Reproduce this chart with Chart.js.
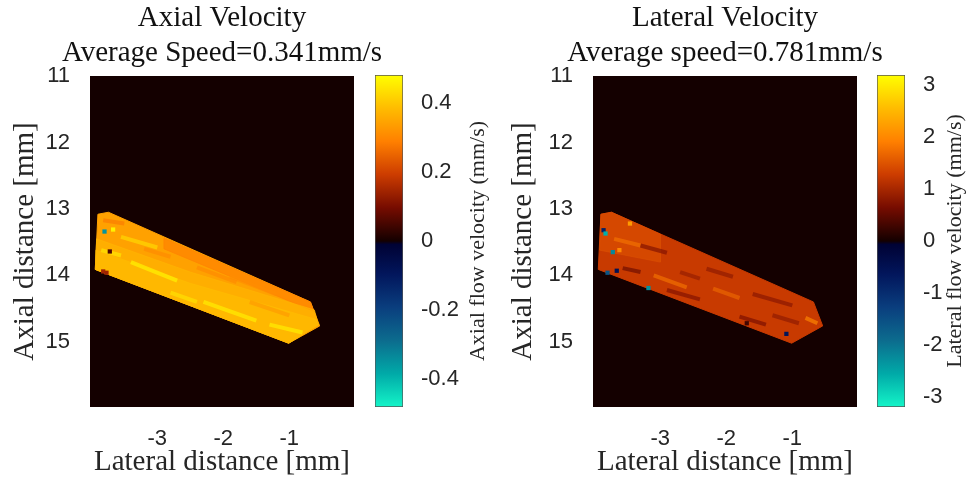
<!DOCTYPE html>
<html>
<head>
<meta charset="utf-8">
<script src="https://cdn.jsdelivr.net/npm/chart.js@4.4.1/dist/chart.umd.min.js"></script>
<style>
  html, body { margin: 0; padding: 0; background: #fff; }
  #fig { position: relative; width: 969px; height: 482px; overflow: hidden; }
  canvas { position: absolute; top: 0; }
</style>
</head>
<body>
<div id="fig">
  <canvas id="axialMap" width="444" height="482" style="left:0px"></canvas>
  <canvas id="axialBar" width="130" height="482" style="left:365px"></canvas>
  <canvas id="latMap" width="482" height="482" style="left:484px"></canvas>
  <canvas id="latBar" width="104" height="482" style="left:865px"></canvas>
</div>
<script>
  // ---- data ----
  const xTicks = [-3, -2, -1];
  const yTicks = [11, 12, 13, 14, 15];
  const axialBarTicks = [-0.4, -0.2, 0, 0.2, 0.4];
  const lateralBarTicks = [-3, -2, -1, 0, 1, 2, 3];

  // vessel mask outline (mm), same region in both maps
  const maskX = [-3.90, -3.74, -0.68, -0.54, -1.01, -3.94];
  const maskY = [13.08, 13.05, 14.40, 14.76, 15.02, 13.91];

  const axialMax = 0.48;
  const lateralMax = 3.2;
  const axialBase = 0.34;
  const lateralBase = 1.25;

  // zones inside the vessel: [value, [x...], [y...]]
  const axialZones = [
    [0.37, [-3.92, -2.50, -0.62, -0.56, -1.01, -3.94], [13.45, 13.95, 14.52, 14.74, 15.02, 13.91]],
    [0.41, [-3.93, -2.50, -0.60, -0.56, -1.01, -3.94], [13.62, 14.12, 14.66, 14.74, 15.02, 13.91]],
    [0.29, [-2.90, -0.68, -0.63, -2.90], [13.44, 14.40, 14.54, 13.60]],
  ];
  // thin streaks: [value, x0, y0, x1, y1]
  const axialStreaks = [
    [0.47, -3.40, 13.80, -2.70, 14.08],
    [0.46, -2.30, 14.40, -1.50, 14.68],
    [0.46, -1.30, 14.74, -0.80, 14.86],
    [0.45, -3.85, 13.62, -3.55, 13.70],
    [0.43, -3.55, 13.42, -3.00, 13.58],
    [0.28, -3.82, 13.17, -3.50, 13.22],
    [0.30, -2.40, 13.88, -1.80, 14.10],
    [0.30, -3.20, 13.60, -2.80, 13.72],
    [0.33, -1.60, 14.40, -1.00, 14.60],
    [0.31, -1.90, 14.02, -1.20, 14.28],
    [0.44, -2.80, 14.26, -2.40, 14.40],
  ];
  // single cells: [value, x, y]
  const axialSpots = [
    [-0.35, -3.80, 13.34],
    [0.46, -3.67, 13.31],
    [0.06, -3.72, 13.64],
    [0.15, -3.82, 13.94],
    [0.14, -3.77, 13.96],
  ];

  const lateralZones = [
    [1.45, [-3.90, -3.74, -3.00, -3.00, -3.92], [13.08, 13.05, 13.38, 13.80, 13.62]],
  ];
  const lateralStreaks = [
    [0.55, -3.57, 13.89, -3.30, 13.95],
    [0.70, -2.90, 14.22, -2.40, 14.36],
    [0.65, -1.80, 14.62, -1.40, 14.74],
    [0.80, -2.30, 13.90, -1.90, 14.02],
    [0.75, -1.60, 14.28, -1.00, 14.45],
    [0.70, -3.30, 13.55, -2.90, 13.66],
    [0.85, -2.70, 13.95, -2.40, 14.05],
    [0.80, -1.30, 14.60, -0.90, 14.72],
    [2.00, -0.80, 14.64, -0.62, 14.72],
    [1.80, -3.10, 14.00, -2.60, 14.18],
    [1.80, -3.70, 13.45, -3.30, 13.55],
    [1.70, -2.20, 14.20, -1.80, 14.34],
  ];
  const lateralSpots = [
    [-0.8, -3.86, 13.32],
    [-2.6, -3.83, 13.37],
    [2.2, -3.46, 13.22],
    [-2.2, -3.72, 13.65],
    [2.0, -3.62, 13.62],
    [-1.6, -3.80, 13.96],
    [-0.5, -3.66, 13.93],
    [-2.3, -3.18, 14.19],
    [-0.6, -1.09, 14.88],
    [0.3, -1.69, 14.72],
  ];

  // ---- colour map (fraction of max -> rgb) ----
  const cmapStops = [
    [-1.0, [20, 245, 200]],
    [-0.8, [0, 170, 168]],
    [-0.6, [12, 108, 142]],
    [-0.4, [10, 62, 126]],
    [-0.2, [2, 22, 92]],
    [-0.02, [0, 2, 52]],
    [0.0, [20, 0, 0]],
    [0.2, [118, 12, 0]],
    [0.4, [204, 60, 0]],
    [0.6, [255, 128, 0]],
    [0.8, [255, 188, 0]],
    [1.0, [255, 255, 0]],
  ];

  function cmap(v, vmax, a) {
    const t = Math.max(-1, Math.min(1, v / vmax));
    let c = cmapStops[cmapStops.length - 1][1];
    for (let i = 1; i < cmapStops.length; i++) {
      const [t1, c1] = cmapStops[i];
      if (t <= t1) {
        const [t0, c0] = cmapStops[i - 1];
        const f = (t - t0) / (t1 - t0);
        c = c0.map((x, k) => Math.round(x + (c1[k] - x) * f));
        break;
      }
    }
    return `rgba(${c[0]},${c[1]},${c[2]},${a ?? 1})`;
  }

  const SERIF = "'Liberation Serif', 'DejaVu Serif', serif";
  const SANS = "'Liberation Sans', 'DejaVu Sans', sans-serif";
  const INK = "#262626";

  const mapBg = {
    id: "mapBg",
    beforeDatasetsDraw(chart) {
      const { ctx, chartArea: a } = chart;
      ctx.save();
      ctx.fillStyle = cmap(0, 1);
      ctx.fillRect(a.left, a.top, a.width, a.height);
      ctx.restore();
    },
  };

  const barLabel = {
    id: "barLabel",
    afterDraw(chart, args, opts) {
      const { ctx, chartArea } = chart;
      ctx.save();
      ctx.translate(opts.x, (chartArea.top + chartArea.bottom) / 2);
      ctx.rotate(-Math.PI / 2);
      ctx.font = `22px ${SERIF}`;
      ctx.fillStyle = INK;
      ctx.textAlign = "center";
      ctx.textBaseline = "middle";
      ctx.fillText(opts.text, 0, 0);
      ctx.restore();
    },
  };

  function polyDataset(xs, ys, color, order) {
    const pts = xs.map((x, i) => ({ x, y: ys[i] }));
    pts.push(pts[0]);
    return {
      type: "line",
      data: pts,
      backgroundColor: color,
      borderColor: color,
      borderWidth: 1,
      pointRadius: 0,
      fill: "shape",
      tension: 0,
      order,
    };
  }

  function streakDataset(s, vmax) {
    return {
      type: "line",
      data: [{ x: s[1], y: s[2] }, { x: s[3], y: s[4] }],
      borderColor: cmap(s[0], vmax, 0.65),
      borderWidth: 4,
      borderCapStyle: "butt",
      pointRadius: 0,
      fill: false,
      tension: 0,
      order: 2,
    };
  }

  function makeMap(id, cfg) {
    const datasets = [
      {
        type: "scatter",
        data: cfg.spots.map((s) => ({ x: s[1], y: s[2] })),
        pointStyle: "rect",
        pointRadius: 3,
        pointBorderWidth: 0,
        pointBackgroundColor: cfg.spots.map((s) => cmap(s[0], cfg.vmax)),
        order: 1,
      },
      ...cfg.streaks.map((s) => streakDataset(s, cfg.vmax)),
      ...cfg.zones.map((z) => polyDataset(z[1], z[2], cmap(z[0], cfg.vmax, 0.7), 3)),
      polyDataset(maskX, maskY, cmap(cfg.base, cfg.vmax), 4),
    ];
    return new Chart(document.getElementById(id), {
      type: "scatter",
      data: { datasets },
      options: {
        responsive: false,
        animation: false,
        events: [],
        layout: { padding: 0 },
        scales: {
          x: {
            type: "linear",
            min: -4.02,
            max: -0.02,
            afterBuildTicks: (s) => { s.ticks = xTicks.map((v) => ({ value: v })); },
            afterFit: (s) => { s.height = 75; },
            grid: { display: false },
            border: { display: false },
            ticks: { padding: 11, color: INK, font: { family: SANS, size: 22 }, callback: (v) => String(v) },
            title: {
              display: true,
              text: "Lateral distance [mm]",
              color: INK,
              font: { family: SERIF, size: 29 },
              padding: { top: 0, bottom: 2 },
            },
          },
          y: {
            type: "linear",
            reverse: true,
            min: 11,
            max: 15.98,
            afterBuildTicks: (s) => { s.ticks = yTicks.map((v) => ({ value: v })); },
            afterFit: (s) => { s.width = cfg.yw; },
            grid: { display: false },
            border: { display: false },
            ticks: { padding: 12, color: INK, font: { family: SANS, size: 22 }, callback: (v) => String(v) },
            title: {
              display: true,
              text: "Axial distance [mm]",
              color: INK,
              font: { family: SERIF, size: 29 },
              padding: { top: cfg.ytPad, bottom: 0 },
            },
          },
          yr: {
            type: "linear",
            position: "right",
            afterFit: (s) => { s.width = cfg.yw; },
            grid: { display: false },
            border: { display: false },
            ticks: { display: false },
          },
        },
        plugins: {
          legend: { display: false },
          tooltip: { enabled: false },
          title: {
            display: true,
            text: cfg.title,
            color: "#111",
            font: { family: SERIF, size: 29, weight: "normal", lineHeight: "35px" },
            padding: { top: 1, bottom: 5 },
          },
        },
      },
      plugins: [mapBg],
    });
  }

  function makeBar(id, cfg) {
    return new Chart(document.getElementById(id), {
      type: "bar",
      data: {
        labels: [""],
        datasets: [
          {
            data: [[-cfg.vmax, cfg.vmax]],
            backgroundColor: (ctx) => {
              const chart = ctx.chart;
              if (!chart.chartArea) return null;
              const y = chart.scales.y;
              const g = chart.ctx.createLinearGradient(0, y.getPixelForValue(-cfg.vmax), 0, y.getPixelForValue(cfg.vmax));
              cmapStops.forEach(([t, c]) => g.addColorStop((t + 1) / 2, `rgb(${c.join(",")})`));
              return g;
            },
            borderColor: "#555",
            borderWidth: 1,
            borderSkipped: false,
            barPercentage: 1,
            categoryPercentage: 1,
          },
        ],
      },
      options: {
        responsive: false,
        animation: false,
        events: [],
        layout: { padding: { left: cfg.left, right: 0, top: 75, bottom: 75 } },
        scales: {
          x: { display: false },
          y: {
            position: "right",
            min: -cfg.vmax,
            max: cfg.vmax,
            afterBuildTicks: (s) => { s.ticks = cfg.ticks.map((v) => ({ value: v })); },
            afterFit: (s) => { s.width = cfg.aw; },
            grid: { display: false },
            border: { display: false },
            ticks: { padding: 10, color: INK, font: { family: SANS, size: 22 }, callback: (v) => String(v) },
          },
        },
        plugins: {
          legend: { display: false },
          tooltip: { enabled: false },
          barLabel: { text: cfg.label, x: cfg.labelX },
        },
      },
      plugins: [barLabel],
    });
  }

  makeMap("axialMap", {
    title: ["Axial Velocity", "Average Speed=0.341mm/s"],
    vmax: axialMax,
    base: axialBase,
    zones: axialZones,
    streaks: axialStreaks,
    spots: axialSpots,
    yw: 90,
    ytPad: 8,
  });
  makeBar("axialBar", {
    vmax: axialMax,
    ticks: axialBarTicks,
    left: 10,
    aw: 92,
    label: "Axial flow velocity (mm/s)",
    labelX: 113,
  });
  makeMap("latMap", {
    title: ["Lateral Velocity", "Average speed=0.781mm/s"],
    vmax: lateralMax,
    base: lateralBase,
    zones: lateralZones,
    streaks: lateralStreaks,
    spots: lateralSpots,
    yw: 109,
    ytPad: 22,
  });
  makeBar("latBar", {
    vmax: lateralMax,
    ticks: lateralBarTicks,
    left: 12,
    aw: 64,
    label: "Lateral flow velocity (mm/s)",
    labelX: 90,
  });
</script>
</body>
</html>
